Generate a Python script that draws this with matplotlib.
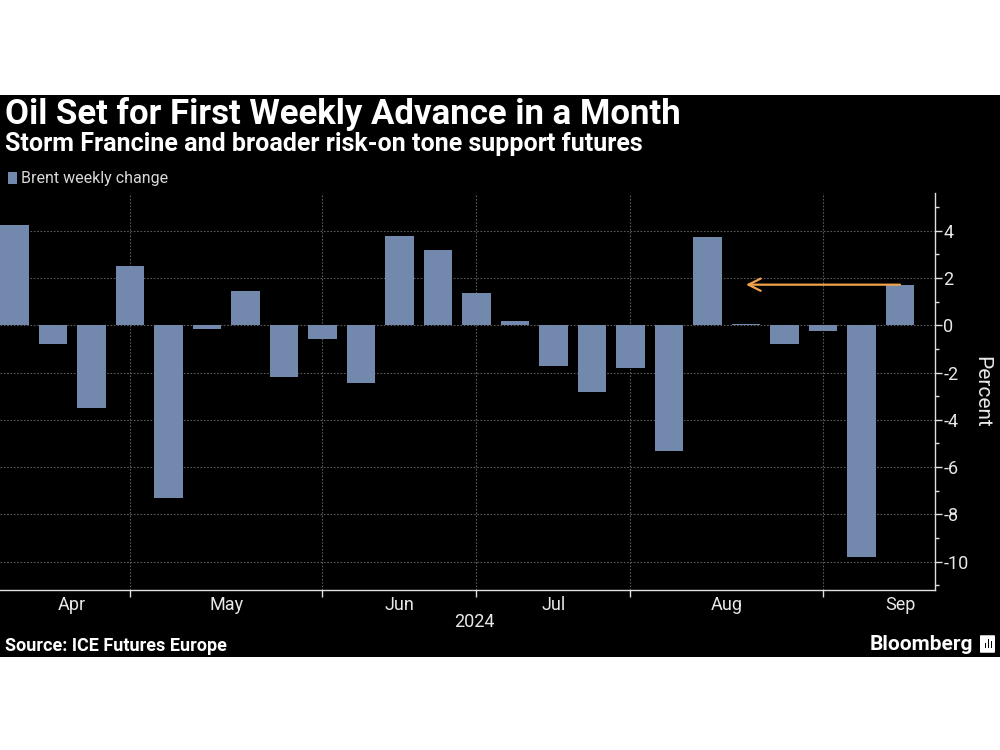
import matplotlib.pyplot as plt
from matplotlib.patches import Rectangle, FancyBboxPatch

# weekly Brent change, percent (Apr - mid Sep 2024)
values = [4.24, -0.78, -3.49, 2.53, -7.29, -0.17, 1.45, -2.18, -0.58, -2.44,
          3.78, 3.18, 1.37, 0.18, -1.72, -2.82, -1.79, -5.33, 3.74, 0.05,
          -0.80, -0.24, -9.82, 1.72]
month_labels = ["Apr", "May", "Jun", "Jul", "Aug", "Sep"]
month_label_pos = [1.5, 5.5, 10, 14, 18.5, 23]
month_tick_pos = [3, 8, 12, 16, 21]
y_ticks = [4, 2, 0, -2, -4, -6, -8, -10]

bar_color = "#7289ad"
arrow_color = "#f0a24e"
font = ["Roboto", "DejaVu Sans"]

fig = plt.figure(figsize=(10, 7.5), dpi=100, facecolor="white")
# black panel behind everything
fig.patches.append(Rectangle((0, 1 - 657 / 750), 1, (657 - 95) / 750,
                             transform=fig.transFigure, facecolor="black",
                             edgecolor="none", zorder=-10))

ax = fig.add_axes([0, 1 - 590 / 750, 0.935, (590 - 193) / 750])
ax.set_facecolor("black")

x = list(range(len(values)))
ax.bar(x, values, width=0.75, color=bar_color, zorder=3)

ax.set_xlim(-0.377, 23.91)
ax.set_ylim(-11.2, 5.6)

# right-hand y axis
ax.yaxis.tick_right()
ax.yaxis.set_label_position("right")
ax.set_yticks(y_ticks)
ax.set_yticklabels([str(v) for v in y_ticks])
ax.set_yticks(range(-11, 6), minor=True)
ax.tick_params(axis="y", which="major", length=5, width=1, color="#e0e0e0",
               labelcolor="#e8e8e8", labelsize=13, pad=1)
ax.tick_params(axis="y", which="minor", length=3, width=1, color="#e0e0e0")
for lab in ax.get_yticklabels():
    lab.set_family(font)
ax.set_ylabel("Percent", rotation=-90, labelpad=16, color="#e8e8e8",
              fontsize=15, family=font)

# month ticks / labels
ax.set_xticks(month_tick_pos)
ax.set_xticklabels([])
ax.tick_params(axis="x", which="major", length=5, width=1, color="#e0e0e0")
for lab, pos in zip(month_labels, month_label_pos):
    ax.text(pos, -0.016, lab, transform=ax.get_xaxis_transform(),
            ha="center", va="top", color="#e8e8e8", fontsize=13, family=font)
fig.text(0.474, 1 - 622 / 750, "2024", ha="center", va="center",
         color="#e8e8e8", fontsize=13, family=font)

ax.grid(True, axis="both", color="#5a5a5a", linestyle=(0, (1.5, 1.5)),
        linewidth=0.8, zorder=0)

for side in ["top", "left"]:
    ax.spines[side].set_visible(False)
ax.spines["right"].set_color("#e0e0e0")
ax.spines["bottom"].set_color("#e0e0e0")
ax.spines["right"].set_linewidth(1)
ax.spines["bottom"].set_linewidth(1)

# arrow from latest week back to the Aug high
last = len(values) - 1
ax.annotate("", xy=(last - 4, values[last]), xytext=(last, values[last]),
            arrowprops=dict(arrowstyle="->", color=arrow_color, lw=1.6,
                            mutation_scale=22, shrinkA=0, shrinkB=0),
            zorder=5)

# titles
fig.text(0.005, 1 - 114 / 750, "Oil Set for First Weekly Advance in a Month",
         ha="left", va="center", color="white", fontsize=25,
         fontweight="bold", family=font)
fig.text(0.005, 1 - 144 / 750,
         "Storm Francine and broader risk-on tone support futures",
         ha="left", va="center", color="white", fontsize=18,
         fontweight="bold", family=font)

# legend
fig.patches.append(Rectangle((8 / 1000, 1 - 184 / 750), 9 / 1000, 12 / 750,
                             transform=fig.transFigure, facecolor=bar_color,
                             edgecolor="none", zorder=2))
fig.text(0.021, 1 - 178 / 750, "Brent weekly change", ha="left", va="center",
         color="#d8d8d8", fontsize=11.5, family=font)

# footer
fig.text(0.005, 1 - 646 / 750, "Source: ICE Futures Europe", ha="left",
         va="center", color="white", fontsize=13, fontweight="bold",
         family=font)
fig.text(0.973, 1 - 644 / 750, "Bloomberg", ha="right", va="center",
         color="white", fontsize=15, fontweight="bold", family=font)
fig.patches.append(FancyBboxPatch((0.981, 1 - 652 / 750), 0.013, 16 / 750,
                                  boxstyle="round,pad=0.001",
                                  transform=fig.transFigure,
                                  facecolor="white", edgecolor="none",
                                  zorder=2))
for bx, bh in [(0.9845, 5), (0.9875, 9), (0.9905, 7)]:
    fig.patches.append(Rectangle((bx, 1 - 648 / 750), 0.0018, bh / 750,
                                 transform=fig.transFigure, facecolor="black",
                                 edgecolor="none", zorder=3))

fig.savefig("out.png", dpi=100, facecolor="white")
